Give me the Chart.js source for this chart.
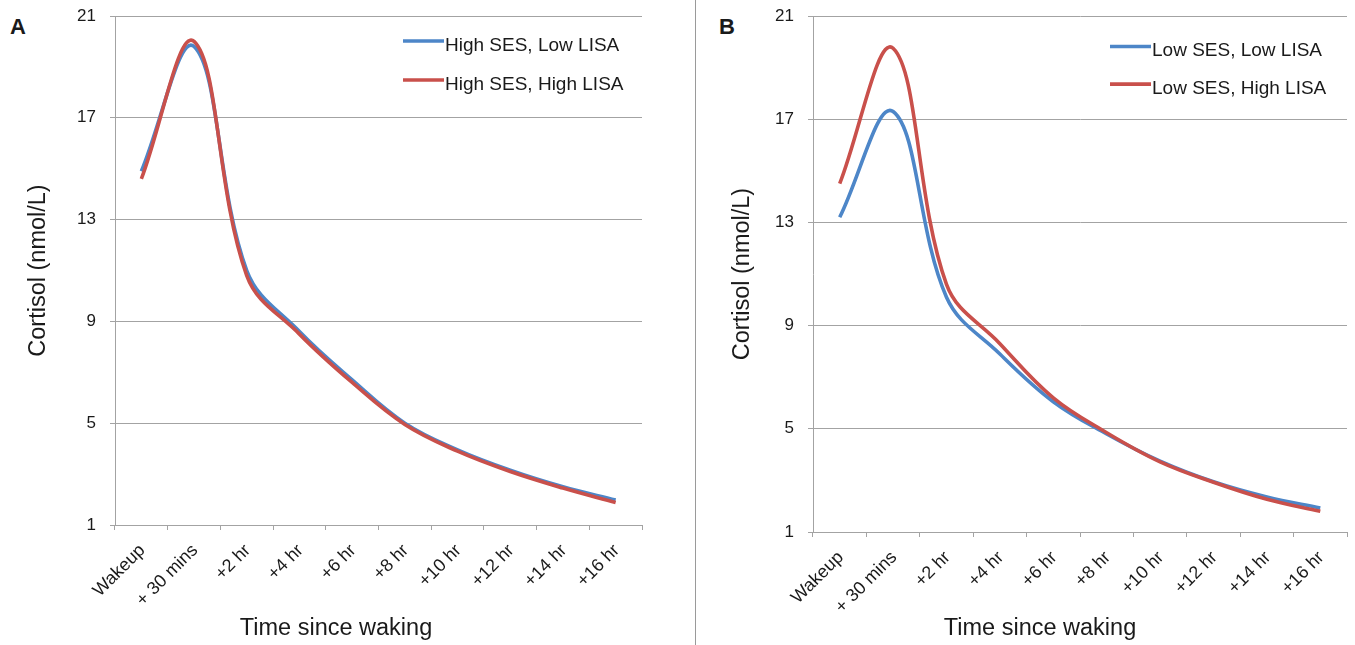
<!DOCTYPE html>
<html>
<head>
<meta charset="utf-8">
<title>Cortisol since waking</title>
<script src="https://cdn.jsdelivr.net/npm/chart.js@4.4.1/dist/chart.umd.min.js"></script>
<style>
  html, body { margin: 0; padding: 0; background: #fff; }
  body { width: 1355px; height: 645px; position: relative; overflow: hidden;
         font-family: "Liberation Sans", Arial, sans-serif; color: #1a1a1a; }
  canvas { position: absolute; top: 0; }
  #chartA { left: 0; }
  #chartB { left: 700px; }
  .panel { position: absolute; font-weight: bold; font-size: 22px; }
  .xtitle { position: absolute; font-size: 23.5px; white-space: nowrap; transform: translateX(-50%); }
  .divider { position: absolute; left: 695px; top: 0; width: 1px; height: 645px; background: #9a9a9a; }
</style>
</head>
<body>
<div class="divider"></div>
<div class="panel" style="left:10px; top:14px">A</div>
<div class="panel" style="left:719px; top:14px">B</div>
<canvas id="chartA" width="690" height="645"></canvas>
<canvas id="chartB" width="655" height="645"></canvas>
<div class="xtitle" style="left:336px; top:614px">Time since waking</div>
<div class="xtitle" style="left:1040px; top:614px">Time since waking</div>

<script>
// data (nmol/L)
const timeLabels = ['Wakeup', '+ 30 mins', '+2 hr', '+4 hr', '+6 hr', '+8 hr', '+10 hr', '+12 hr', '+14 hr', '+16 hr'];
const yTicks = [1, 5, 9, 13, 17, 21];

const highSesLowLisa  = [14.9, 19.8, 11.0, 8.6, 6.7, 5.0, 3.95, 3.15, 2.5, 1.98];
const highSesHighLisa = [14.6, 20.0, 10.8, 8.5, 6.6, 4.95, 3.9, 3.1, 2.45, 1.88];
const lowSesLowLisa   = [13.2, 17.3, 10.1, 7.9, 6.05, 4.8, 3.75, 2.95, 2.36, 1.93];
const lowSesHighLisa  = [14.5, 19.75, 10.6, 8.3, 6.2, 4.85, 3.72, 2.93, 2.27, 1.8];

const namesA = ['High SES, Low LISA', 'High SES, High LISA'];
const namesB = ['Low SES, Low LISA', 'Low SES, High LISA'];

const BLUE = '#4d86c8';
const RED = '#c9504b';
const GREY = '#a3a3a3';
const INK = '#1a1a1a';
const FONT = '"Liberation Sans", Arial, sans-serif';

// legend sitting inside the plot, top right, like the Excel one
const innerLegend = {
  id: 'innerLegend',
  afterDatasetsDraw(chart, args, opts) {
    const { ctx, chartArea } = chart;
    ctx.save();
    ctx.font = '19px ' + FONT;
    ctx.textBaseline = 'middle';
    ctx.textAlign = 'left';
    chart.data.datasets.forEach((ds, i) => {
      const x = chartArea.right - opts.right;
      const y = chartArea.top + opts.top + i * opts.gap;
      ctx.strokeStyle = ds.borderColor;
      ctx.lineWidth = ds.borderWidth;
      ctx.beginPath();
      ctx.moveTo(x, y);
      ctx.lineTo(x + 41, y);
      ctx.stroke();
      ctx.fillStyle = INK;
      ctx.fillText(ds.label, x + 42, y + 4.5);
    });
    ctx.restore();
  }
};

function makeChart(id, names, blue, red, lay) {
  const ctx = document.getElementById(id).getContext('2d');
  return new Chart(ctx, {
    type: 'line',
    data: {
      labels: timeLabels,
      datasets: [
        { label: names[0], data: blue, borderColor: BLUE, borderWidth: 3.6, order: 1 },
        { label: names[1], data: red, borderColor: RED, borderWidth: 3.6, order: 0 }
      ]
    },
    options: {
      responsive: false,
      animation: false,
      devicePixelRatio: 1,
      layout: { padding: { top: 16, right: lay.padRight, bottom: 0, left: 0 } },
      elements: {
        point: { radius: 0 },
        line: { tension: 0.38, fill: false, borderCapStyle: 'butt' }
      },
      plugins: {
        legend: { display: false },
        tooltip: { enabled: false },
        innerLegend: { right: lay.legRight, top: lay.legTop, gap: lay.legGap }
      },
      scales: {
        x: {
          offset: true,
          grid: { drawOnChartArea: false, drawTicks: true, tickLength: 5, color: GREY, offset: true },
          border: { display: true, color: GREY },
          ticks: {
            autoSkip: false, minRotation: 45, maxRotation: 45,
            padding: 10, labelOffset: 1,
            color: INK, font: { family: FONT, size: 18 }
          },
          afterFit: s => { s.height = lay.xHeight; }
        },
        y: {
          min: yTicks[0],
          max: yTicks[yTicks.length - 1],
          ticks: { stepSize: yTicks[1] - yTicks[0], padding: 14, color: INK, font: { family: FONT, size: 17 } },
          grid: { color: GREY, tickLength: 5 },
          border: { display: true, color: GREY },
          title: {
            display: true, text: 'Cortisol (nmol/L)', color: INK,
            font: { family: FONT, size: 23.5 }, padding: { top: lay.yTitlePad, bottom: 0 }
          },
          afterFit: s => {
            s.width = lay.yWidth;
            // let the plot start right at the layout padding
            s.paddingTop = 0;
            s.paddingBottom = 0;
          }
        }
      }
    },
    plugins: [innerLegend]
  });
}

makeChart('chartA', namesA, highSesLowLisa, highSesHighLisa,
  { padRight: 48, xHeight: 120, yWidth: 115, yTitlePad: 24, legRight: 239, legTop: 25, legGap: 39 });
makeChart('chartB', namesB, lowSesLowLisa, lowSesHighLisa,
  { padRight: 8, xHeight: 113, yWidth: 113, yTitlePad: 28, legRight: 237, legTop: 30.5, legGap: 37.6 });
</script>
</body>
</html>
